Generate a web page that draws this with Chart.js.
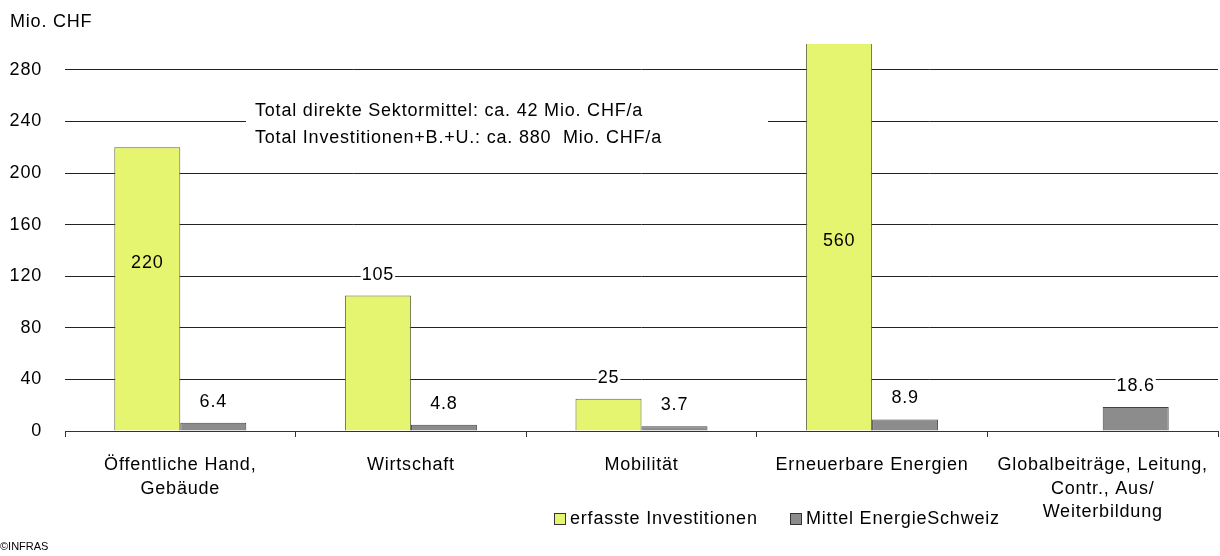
<!DOCTYPE html>
<html>
<head>
<meta charset="utf-8">
<script src="https://cdn.jsdelivr.net/npm/chart.js@4"></script>
<style>
  body { margin: 0; background: #fff; }
  canvas { display: block; }
</style>
</head>
<body>
<canvas id="chart" width="1220" height="556"></canvas>
<script>
// daten
const categories = [
    ['Öffentliche Hand,', 'Gebäude'],
    'Wirtschaft',
    'Mobilität',
    'Erneuerbare Energien',
    ['Globalbeiträge, Leitung,', 'Contr., Aus/', 'Weiterbildung']
];
const investitionen = [220, 105, 25, 560, null];
const mittelEnergieSchweiz = [6.4, 4.8, 3.7, 8.9, 18.6];
const yTicks = [0, 40, 80, 120, 160, 200, 240, 280];
const infoLines = [
    'Total direkte Sektormittel: ca. 42 Mio. CHF/a',
    'Total Investitionen+B.+U.: ca. 880  Mio. CHF/a'
];

const FONT = "'Liberation Sans', Arial, sans-serif";
const SPACING = '0.8px';

// etwas breitere schrift wie im original
const spacingPlugin = {
    id: 'spacing',
    beforeLayout(chart) { chart.ctx.letterSpacing = SPACING; },
    beforeDraw(chart) { chart.ctx.letterSpacing = SPACING; }
};

// labels, textbox, legende, titel
const extrasPlugin = {
    id: 'extras',
    afterDatasetsDraw(chart) {
        const ctx = chart.ctx;
        ctx.save();
        ctx.letterSpacing = SPACING;
        ctx.font = '18px ' + FONT;
        ctx.fillStyle = '#000';
        ctx.textBaseline = 'middle';

        // datenlabels
        const insideShift = [-26, 0, 0, 4, 0];
        chart.data.datasets.forEach((ds, di) => {
            const meta = chart.getDatasetMeta(di);
            meta.data.forEach((bar, i) => {
                const v = ds.data[i];
                if (v === null || v === undefined) return;
                const txt = String(v);
                const w = ctx.measureText(txt).width;
                let y;
                if (v > 200) {
                    const top = Math.max(bar.y, chart.chartArea.top);
                    y = (top + bar.base) / 2 + insideShift[i];
                } else {
                    y = bar.y - 21;
                    ctx.fillStyle = '#fff';
                    ctx.fillRect(bar.x - w / 2 - 1, y - 9, w + 2, 18);
                }
                ctx.fillStyle = '#000';
                ctx.textAlign = 'center';
                ctx.fillText(txt, bar.x, y);
            });
        });

        // textbox
        ctx.fillStyle = '#fff';
        ctx.fillRect(246, 92, 522, 58);
        ctx.fillStyle = '#000';
        ctx.textAlign = 'left';
        ctx.fillText(infoLines[0], 255, 111);
        ctx.fillText(infoLines[1], 255, 138);

        // achsentitel
        ctx.fillText('Mio. CHF', 10, 22);

        // legende
        const legendX = [554, 790];
        chart.data.datasets.forEach((ds, di) => {
            const x = legendX[di];
            ctx.fillStyle = ds.backgroundColor;
            ctx.fillRect(x, 513, 11, 11);
            ctx.strokeStyle = '#333';
            ctx.lineWidth = 1;
            ctx.strokeRect(x + 0.5, 513.5, 11, 11);
            ctx.fillStyle = '#000';
            ctx.fillText(ds.label, x + 16, 519);
        });

        // quelle
        ctx.letterSpacing = '0px';
        ctx.font = '11px ' + FONT;
        ctx.fillText('©INFRAS', 0, 547);
        ctx.restore();
    }
};

new Chart(document.getElementById('chart'), {
    type: 'bar',
    data: {
        labels: categories,
        datasets: [
            {
                label: 'erfasste Investitionen',
                data: investitionen,
                backgroundColor: '#e6f56f',
                borderColor: '#5f6333',
                borderWidth: 1
            },
            {
                label: 'Mittel EnergieSchweiz',
                data: mittelEnergieSchweiz,
                backgroundColor: '#8c8c8c',
                borderColor: '#444',
                borderWidth: 1
            }
        ]
    },
    options: {
        responsive: false,
        animation: false,
        devicePixelRatio: 1,
        categoryPercentage: 0.5725,
        barPercentage: 1,
        layout: { padding: { left: 0, right: 2, top: 44, bottom: 0 } },
        plugins: {
            legend: { display: false },
            tooltip: { enabled: false }
        },
        scales: {
            x: {
                grid: {
                    offset: true,
                    drawOnChartArea: false,
                    drawTicks: true,
                    tickLength: 6,
                    color: '#333'
                },
                border: { display: true, color: '#333', width: 1 },
                ticks: {
                    color: '#000',
                    padding: 17,
                    maxRotation: 0,
                    autoSkip: false,
                    font: { family: FONT, size: 18, lineHeight: 1.28 }
                },
                afterFit(scale) {
                    scale.height = 125;
                    scale.paddingLeft = 0;
                    scale.paddingRight = 0;
                }
            },
            y: {
                min: 0,
                max: 300,
                afterBuildTicks(scale) {
                    scale.ticks = yTicks.map(v => ({ value: v }));
                },
                grid: {
                    drawTicks: false,
                    color: '#222',
                    lineWidth: 1
                },
                border: { display: false },
                ticks: {
                    color: '#000',
                    padding: 23,
                    font: { family: FONT, size: 18 }
                },
                afterFit(scale) { scale.width = 65; }
            }
        }
    },
    plugins: [spacingPlugin, extrasPlugin]
});
</script>
</body>
</html>
